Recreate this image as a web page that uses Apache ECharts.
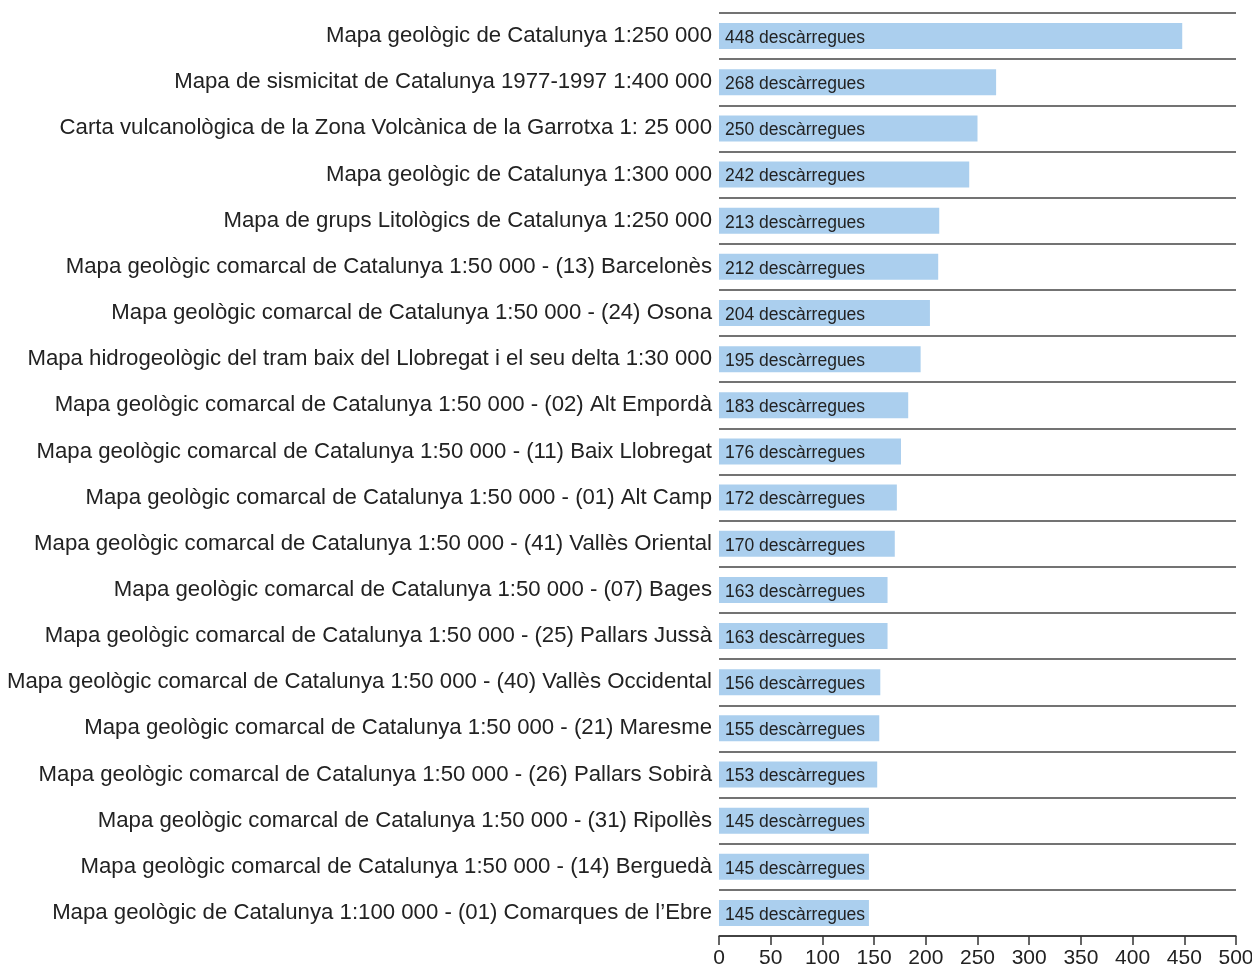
<!DOCTYPE html>
<html>
<head>
<meta charset="utf-8">
<script src="https://cdn.jsdelivr.net/npm/echarts@6/dist/echarts.min.js"></script>
<style>
  html, body { margin: 0; padding: 0; background: #fff; }
  #chart { width: 1252px; height: 969px; }
</style>
</head>
<body>
<div id="chart"></div>
<script>
const categories = [
  'Mapa geològic de Catalunya 1:250 000',
  'Mapa de sismicitat de Catalunya 1977-1997 1:400 000',
  'Carta vulcanològica de la Zona Volcànica de la Garrotxa 1: 25 000',
  'Mapa geològic de Catalunya 1:300 000',
  'Mapa de grups Litològics de Catalunya 1:250 000',
  'Mapa geològic comarcal de Catalunya 1:50 000 - (13) Barcelonès',
  'Mapa geològic comarcal de Catalunya 1:50 000 - (24) Osona',
  'Mapa hidrogeològic del tram baix del Llobregat i el seu delta 1:30 000',
  'Mapa geològic comarcal de Catalunya 1:50 000 - (02) Alt Empordà',
  'Mapa geològic comarcal de Catalunya 1:50 000 - (11) Baix Llobregat',
  'Mapa geològic comarcal de Catalunya 1:50 000 - (01) Alt Camp',
  'Mapa geològic comarcal de Catalunya 1:50 000 - (41) Vallès Oriental',
  'Mapa geològic comarcal de Catalunya 1:50 000 - (07) Bages',
  'Mapa geològic comarcal de Catalunya 1:50 000 - (25) Pallars Jussà',
  'Mapa geològic comarcal de Catalunya 1:50 000 - (40) Vallès Occidental',
  'Mapa geològic comarcal de Catalunya 1:50 000 - (21) Maresme',
  'Mapa geològic comarcal de Catalunya 1:50 000 - (26) Pallars Sobirà',
  'Mapa geològic comarcal de Catalunya 1:50 000 - (31) Ripollès',
  'Mapa geològic comarcal de Catalunya 1:50 000 - (14) Berguedà',
  'Mapa geològic de Catalunya 1:100 000 - (01) Comarques de l’Ebre'
]
const downloads = [448, 268, 250, 242, 213, 212, 204, 195, 183, 176, 172, 170, 163, 163, 156, 155, 153, 145, 145, 145]

const chart = echarts.init(document.getElementById('chart'), null, { renderer: 'canvas' })
const option = {
  animation: false,
  textStyle: { fontFamily: '"Liberation Sans", Arial, sans-serif' },
  grid: { left: 719, right: 16, top: 13, bottom: 33, containLabel: false, outerBoundsMode: 'none' },
  xAxis: {
    type: 'value',
    min: 0,
    max: 500,
    interval: 50,
    axisLine: { show: true, lineStyle: { color: '#333', width: 1.5 } },
    axisTick: { show: true, length: 9, lineStyle: { color: '#333', width: 1.5 } },
    axisLabel: { color: '#222', fontSize: 21, margin: 12 },
    splitLine: { show: false }
  },
  yAxis: {
    type: 'category',
    inverse: true,
    data: categories,
    axisLine: { show: false },
    axisTick: { show: false },
    axisLabel: { color: '#222', fontSize: 22.2, margin: 7, padding: [4, 0, 0, 0] },
    splitLine: { show: true, lineStyle: { color: '#444', width: 1.5 } }
  },
  series: [
    {
      name: 'descàrregues',
      type: 'bar',
      data: downloads,
      barWidth: 26,
      itemStyle: { color: '#abcfee' },
      label: {
        show: true,
        position: 'insideLeft',
        distance: 6,
        offset: [0, 2],
        color: '#222',
        fontSize: 17.5,
        formatter: '{c} descàrregues'
      }
    }
  ]
}
chart.setOption(option)
window.addEventListener('resize', chart.resize)
</script>
</body>
</html>
